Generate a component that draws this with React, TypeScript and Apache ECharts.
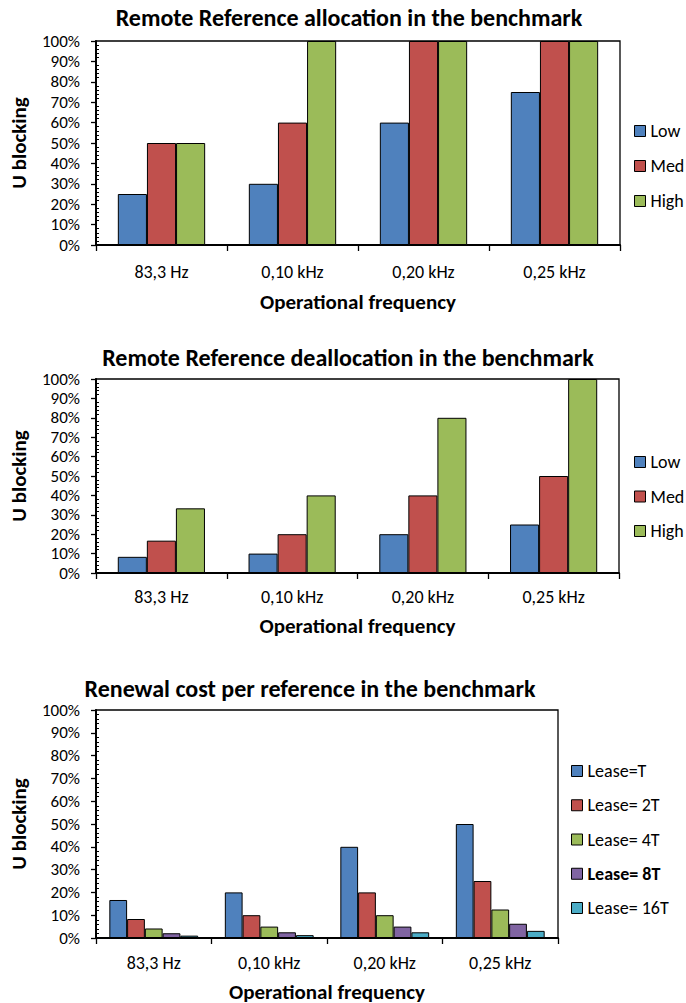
import React, { useEffect, useRef } from "react";
import * as echarts from "echarts";

// Shared category and tick data
const categories = ["83,3 Hz", "0,10 kHz", "0,20 kHz", "0,25 kHz"];

// Remote Reference allocation
const allocLow = [25, 30, 60, 75];
const allocMed = [50, 60, 100, 100];
const allocHigh = [50, 100, 100, 100];

// Remote Reference deallocation
const deallocLow = [8.33, 10, 20, 25];
const deallocMed = [16.67, 20, 40, 50];
const deallocHigh = [33.33, 40, 80, 100];

// Renewal cost per reference
const leaseT = [16.67, 20, 40, 50];
const lease2T = [8.33, 10, 20, 25];
const lease4T = [4.17, 5, 10, 12.5];
const lease8T = [2.08, 2.5, 5, 6.25];
const lease16T = [1.04, 1.25, 2.5, 3.13];

const titles = [
  "Remote Reference allocation in the benchmark",
  "Remote Reference deallocation in the benchmark",
  "Renewal cost per reference in the benchmark",
];
const yTitle = "U blocking";
const xTitle = "Operational frequency";

const FONT = "Carlito, Lato, 'Open Sans', sans-serif";
const BLUE = "#4F81BD";
const RED = "#C0504D";
const GREEN = "#9BBB59";
const PURPLE = "#8064A2";
const CYAN = "#4BACC6";

type Panel = {
  grid: { left: number; top: number; width: number; height: number };
  titleX: number;
  titleTop: number;
  labelMargin: number;
  xNameGap: number;
  legend: { left: number; top: number; gap: number };
  series: { name: string; data: number[]; color: string; bold?: boolean }[];
  categoryGap: string;
};

const panels: Panel[] = [
  {
    grid: { left: 90, top: 41, width: 530, height: 204 },
    titleX: 349,
    titleTop: 5,
    labelMargin: 18,
    xNameGap: 46,
    legend: { left: 634, top: 122, gap: 17 },
    categoryGap: "33.33%",
    series: [
      { name: "Low", data: allocLow, color: BLUE },
      { name: "Med", data: allocMed, color: RED },
      { name: "High", data: allocHigh, color: GREEN },
    ],
  },
  {
    grid: { left: 90, top: 379, width: 529, height: 194 },
    titleX: 348,
    titleTop: 345,
    labelMargin: 15,
    xNameGap: 42,
    legend: { left: 634, top: 453, gap: 16.5 },
    categoryGap: "33.33%",
    series: [
      { name: "Low", data: deallocLow, color: BLUE },
      { name: "Med", data: deallocMed, color: RED },
      { name: "High", data: deallocHigh, color: GREEN },
    ],
  },
  {
    grid: { left: 90, top: 710, width: 468, height: 228 },
    titleX: 310,
    titleTop: 676,
    labelMargin: 16,
    xNameGap: 43,
    legend: { left: 571, top: 762, gap: 16.25 },
    categoryGap: "23.08%",
    series: [
      { name: "Lease=T", data: leaseT, color: BLUE },
      { name: "Lease= 2T", data: lease2T, color: RED },
      { name: "Lease= 4T", data: lease4T, color: GREEN },
      { name: "Lease= 8T", data: lease8T, color: PURPLE, bold: true },
      { name: "Lease= 16T", data: lease16T, color: CYAN },
    ],
  },
];

function buildOption() {
  const grid: any[] = [];
  const xAxis: any[] = [];
  const yAxis: any[] = [];
  const title: any[] = [];
  const legend: any[] = [];
  const series: any[] = [];

  panels.forEach((p, i) => {
    grid.push({
      ...p.grid,
      show: true,
      borderColor: "#000",
      borderWidth: 1.3,
      backgroundColor: "transparent",
    });
    title.push({
      text: titles[i],
      left: p.titleX,
      top: p.titleTop,
      textAlign: "center",
      padding: 0,
      textStyle: { fontFamily: FONT, fontSize: 24, fontWeight: "bold", color: "#000" },
    });
    xAxis.push({
      type: "category",
      gridIndex: i,
      data: categories,
      name: xTitle,
      nameLocation: "middle",
      nameGap: p.xNameGap,
      nameTextStyle: { fontFamily: FONT, fontSize: 21, fontWeight: "bold", color: "#000" },
      axisLine: { show: true, lineStyle: { color: "#000", width: 2 } },
      axisTick: { show: true, length: 6, lineStyle: { color: "#000", width: 1.3 } },
      axisLabel: { fontFamily: FONT, fontSize: 18, color: "#000", margin: p.labelMargin },
      splitLine: { show: false },
    });
    // Main value axis: labels and outward major ticks
    yAxis.push({
      type: "value",
      gridIndex: i,
      min: 0,
      max: 100,
      interval: 10,
      name: yTitle,
      nameLocation: "middle",
      nameGap: 67,
      nameRotate: 90,
      nameTextStyle: { fontFamily: FONT, fontSize: 21, fontWeight: "bold", color: "#000" },
      axisLine: { show: true, lineStyle: { color: "#000", width: 2 } },
      axisTick: { show: true, length: 5, lineStyle: { color: "#000", width: 1.3 } },
      axisLabel: {
        fontFamily: FONT,
        fontSize: 17,
        color: "#000",
        margin: 16,
        formatter: "{value}%",
      },
      splitLine: { show: false },
    });
    // Companion axis drawing the inward minor ticks
    yAxis.push({
      type: "value",
      gridIndex: i,
      min: 0,
      max: 100,
      interval: 10,
      position: "left",
      offset: 0,
      axisLine: { show: false },
      axisTick: { show: false, inside: true },
      axisLabel: { show: false },
      minorTick: { show: true, splitNumber: 5, length: 3, lineStyle: { color: "#000", width: 1 } },
      splitLine: { show: false },
    });
    legend.push({
      orient: "vertical",
      left: p.legend.left,
      top: p.legend.top,
      padding: 0,
      itemWidth: 11,
      itemHeight: 11,
      itemGap: p.legend.gap,
      icon: "rect",
      selectedMode: false,
      itemStyle: { borderColor: "#000", borderWidth: 1 },
      textStyle: { fontFamily: FONT, fontSize: 18, color: "#000", lineHeight: 18 },
      data: p.series.map((s) => ({
        name: s.name,
        textStyle: s.bold ? { fontWeight: "bold" } : undefined,
      })),
    });
    p.series.forEach((s) => {
      series.push({
        type: "bar",
        name: s.name,
        xAxisIndex: i,
        yAxisIndex: i * 2,
        data: s.data,
        barGap: "0%",
        barCategoryGap: p.categoryGap,
        itemStyle: { color: s.color, borderColor: "#000", borderWidth: 1 },
      });
    });
  });

  return {
    animation: false,
    backgroundColor: "#fff",
    title,
    grid,
    xAxis,
    yAxis,
    legend,
    series,
  };
}

export default function App() {
  const ref = useRef<HTMLDivElement>(null);

  useEffect(() => {
    if (!ref.current) return;
    const chart = echarts.init(ref.current, undefined, { renderer: "svg" });
    chart.setOption(buildOption() as any);
    return () => chart.dispose();
  }, []);

  return (
    <div
      ref={ref}
      style={{ position: "absolute", left: 0, top: 0, width: 686, height: 1003, background: "#fff" }}
    />
  );
}
